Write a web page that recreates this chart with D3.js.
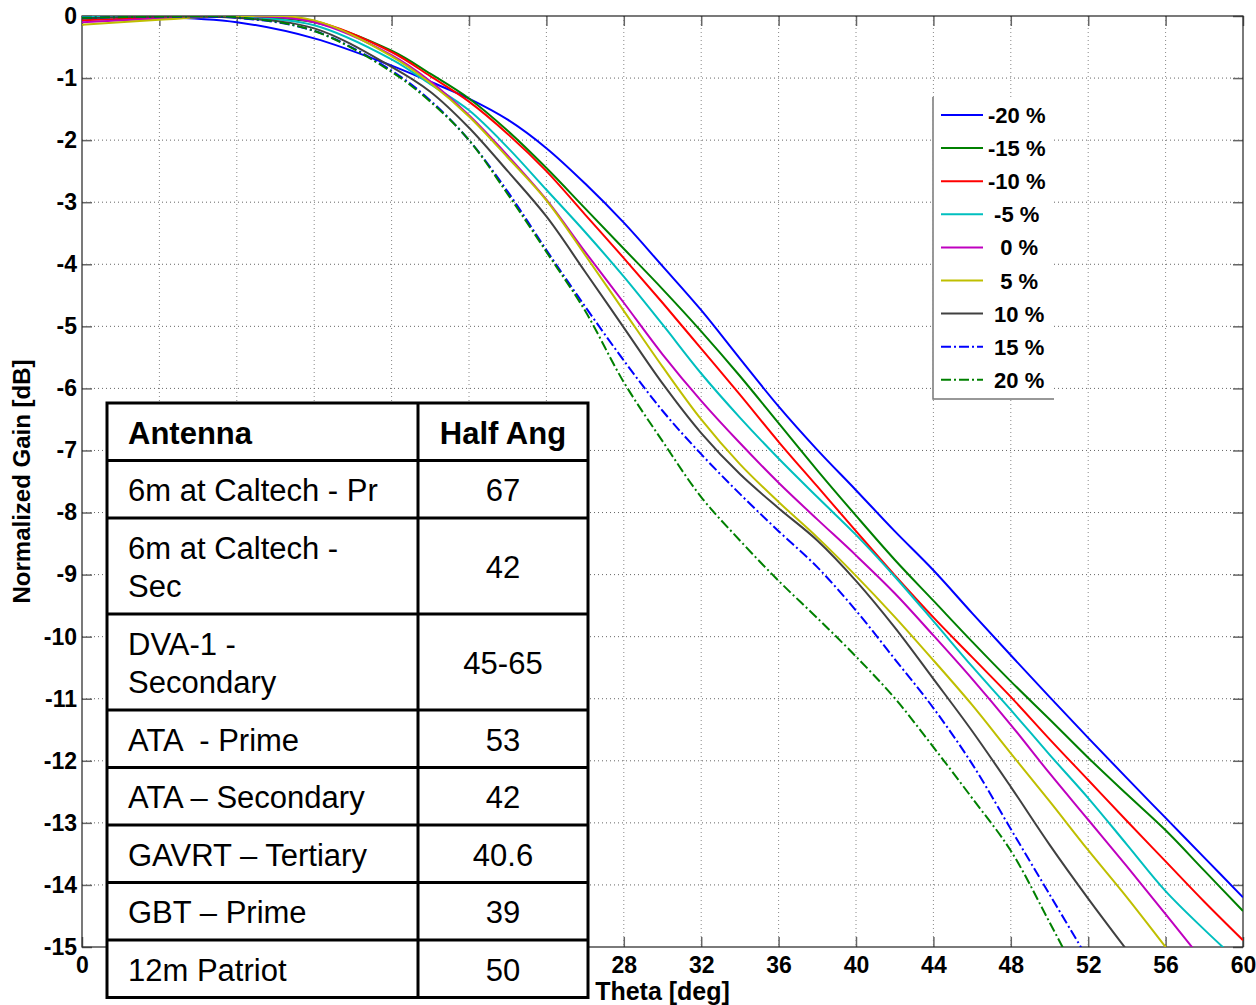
<!DOCTYPE html>
<html>
<head>
<meta charset="utf-8">
<script src="https://cdn.jsdelivr.net/npm/d3@7"></script>
<style>
  body { margin: 0; background: #fff; }
  text { font-family: "Liberation Sans", Arial, sans-serif; }
</style>
</head>
<body>
<div id="chart"></div>
<script>
// theta [deg] sample points
var theta = [0, 4, 8, 12, 16, 18, 20, 22, 24, 26, 28, 30, 32, 34, 36, 38, 40, 42, 44, 46, 48, 50, 52, 54, 56, 58, 60];

// normalized gain [dB] per frequency offset
var gainM20 = [-0.03, -0.02, -0.1, -0.36, -0.8, -1.06, -1.33, -1.67, -2.13, -2.7, -3.33, -4.03, -4.74, -5.52, -6.29, -6.99, -7.64, -8.3, -8.93, -9.62, -10.3, -10.97, -11.63, -12.28, -12.92, -13.56, -14.2];
var gainM15 = [-0.02, 0, -0.01, -0.1, -0.56, -0.93, -1.33, -1.85, -2.45, -3.1, -3.75, -4.4, -5.08, -5.8, -6.56, -7.32, -8.05, -8.76, -9.42, -10.08, -10.72, -11.33, -11.95, -12.54, -13.12, -13.77, -14.42];
var gainM10 = [-0.07, -0.03, 0, -0.08, -0.58, -0.97, -1.38, -1.9, -2.5, -3.2, -3.9, -4.62, -5.36, -6.1, -6.86, -7.58, -8.3, -9.01, -9.69, -10.33, -10.97, -11.65, -12.31, -12.97, -13.62, -14.27, -14.89];
var gainM5 = [0, 0, -0.02, -0.15, -0.7, -1.1, -1.52, -2.12, -2.8, -3.48, -4.2, -4.97, -5.76, -6.47, -7.13, -7.75, -8.36, -9.03, -9.75, -10.48, -11.18, -11.9, -12.6, -13.35, -14.1, -14.72, -15.3];
var gain0 = [-0.1, -0.04, 0, -0.1, -0.63, -1.05, -1.6, -2.25, -2.96, -3.8, -4.62, -5.45, -6.2, -6.88, -7.52, -8.11, -8.69, -9.3, -9.98, -10.68, -11.42, -12.2, -12.95, -13.7, -14.47, -15.25, null];
var gainP5 = [-0.14, -0.06, 0, -0.07, -0.65, -1.08, -1.62, -2.28, -2.97, -3.85, -4.75, -5.65, -6.5, -7.22, -7.83, -8.4, -9.02, -9.68, -10.38, -11.1, -11.88, -12.65, -13.44, -14.2, -15.0, -15.8, null];
var gainP10 = [-0.04, -0.01, -0.03, -0.2, -0.82, -1.22, -1.8, -2.5, -3.23, -4.12, -5.02, -5.92, -6.72, -7.38, -7.93, -8.45, -9.1, -9.85, -10.68, -11.52, -12.42, -13.35, -14.22, -15.05, null, null, null];
var gainP15 = [-0.03, -0.01, -0.03, -0.24, -0.88, -1.36, -2.0, -2.83, -3.77, -4.68, -5.55, -6.36, -7.06, -7.7, -8.3, -8.88, -9.58, -10.36, -11.15, -12.05, -13.1, -14.15, -15.2, null, null, null, null];
var gainP20 = [-0.03, -0.01, -0.02, -0.24, -0.9, -1.38, -2.0, -2.87, -3.8, -4.75, -5.9, -6.85, -7.75, -8.45, -9.1, -9.7, -10.32, -10.99, -11.78, -12.6, -13.45, -14.6, -15.8, null, null, null, null];

var seriesLabels = ["-20 %", "-15 %", "-10 %", " -5 %", "  0 %", "  5 %", " 10 %", " 15 %", " 20 %"];
var seriesValues = [gainM20, gainM15, gainM10, gainM5, gain0, gainP5, gainP10, gainP15, gainP20];
var seriesColors = ["#0000ff", "#008000", "#ff0000", "#00bfbf", "#bf00bf", "#bfbf00", "#404040", "#0000ff", "#008000"];
var seriesDash = [null, null, null, null, null, null, null, "10,3,2,3", "10,3,2,3"];

var xTicks = d3.range(0, 61, 4);
var yTicks = d3.range(-15, 1, 1);

// table of antennas
var antennaNames = ["6m at Caltech - Pr", "6m at Caltech -\nSec", "DVA-1 -\nSecondary", "ATA  - Prime", "ATA \u2013 Secondary", "GAVRT \u2013 Tertiary", "GBT \u2013 Prime", "12m Patriot"];
var halfAngles = ["67", "42", "45-65", "53", "42", "40.6", "39", "50"];
var tableHeader = ["Antenna", "Half Ang"];

var width = 1256, height = 1005;
var x0 = 82, x1 = 1243, y0 = 16, y1 = 947;
var tx = 107, tw = 481, colX = 418, tTop = 403;

var svg = d3.select("#chart").append("svg")
    .attr("width", width)
    .attr("height", height);

var x = d3.scaleLinear().domain([0, 60]).range([x0, x1]);
var y = d3.scaleLinear().domain([-15, 0]).range([y1, y0]);

// grid
svg.append("g").selectAll("line")
    .data(xTicks.filter(function (d) { return d > 0 && d < 60; }))
  .enter().append("line")
    .attr("x1", function (d) { return x(d); })
    .attr("x2", function (d) { return x(d); })
    .attr("y1", y0)
    .attr("y2", y1)
    .attr("stroke", "#888")
    .attr("stroke-dasharray", "1,3");
svg.append("g").selectAll("line")
    .data(yTicks.filter(function (d) { return d > -15 && d < 0; }))
  .enter().append("line")
    .attr("x1", x0)
    .attr("x2", x1)
    .attr("y1", function (d) { return y(d); })
    .attr("y2", function (d) { return y(d); })
    .attr("stroke", "#666")
    .attr("stroke-dasharray", "1,3");

// axes, ticks pointing inward; x labels under the table are hidden there anyway
var fmt = function (d) { return String(d); };
var fmtX = function (d) { return (x(d) > tx && x(d) < tx + tw) ? "" : String(d); };
var gx = svg.append("g").attr("transform", "translate(0," + y1 + ")")
    .call(d3.axisBottom(x).tickValues(xTicks).tickSize(-10).tickPadding(10).tickFormat(fmtX));
var gy = svg.append("g").attr("transform", "translate(" + x0 + ",0)")
    .call(d3.axisLeft(y).tickValues(yTicks).tickSize(-10).tickPadding(5).tickFormat(fmt));
var gt = svg.append("g").attr("transform", "translate(0," + y0 + ")")
    .call(d3.axisTop(x).tickValues(xTicks).tickSize(-10).tickFormat(""));
var gr = svg.append("g").attr("transform", "translate(" + x1 + ",0)")
    .call(d3.axisRight(y).tickValues(yTicks).tickSize(-10).tickFormat(""));
[gx, gy, gt, gr].forEach(function (g) {
  g.select(".domain").remove();
  g.selectAll(".tick line").attr("stroke", "#666").attr("stroke-width", 1.5);
  g.selectAll("text")
    .attr("fill", "#000")
    .attr("font-size", "23px")
    .attr("font-weight", "bold")
    .attr("font-family", "Liberation Sans, Arial, sans-serif");
});

// box
svg.append("rect")
    .attr("x", x0).attr("y", y0)
    .attr("width", x1 - x0).attr("height", y1 - y0)
    .attr("fill", "none")
    .attr("stroke", "#222")
    .attr("stroke-width", 1.2);

// curves
svg.append("clipPath").attr("id", "plotClip")
  .append("rect")
    .attr("x", x0).attr("y", y0)
    .attr("width", x1 - x0).attr("height", y1 - y0);

var line = d3.line()
    .defined(function (d) { return d[1] !== null; })
    .x(function (d) { return x(d[0]); })
    .y(function (d) { return y(d[1]); })
    .curve(d3.curveCatmullRom.alpha(0.5));

var curves = svg.append("g").attr("clip-path", "url(#plotClip)");
seriesValues.forEach(function (vals, i) {
  curves.append("path")
    .attr("d", line(theta.map(function (t, j) { return [t, vals[j]]; })))
    .attr("fill", "none")
    .attr("stroke", seriesColors[i])
    .attr("stroke-width", 2)
    .attr("stroke-dasharray", seriesDash[i]);
});

// axis labels
svg.append("text")
    .attr("transform", "translate(30," + ((y0 + y1) / 2) + ") rotate(-90)")
    .attr("text-anchor", "middle")
    .attr("font-size", "24px")
    .attr("font-weight", "bold")
    .text("Normalized Gain [dB]");
svg.append("text")
    .attr("x", (x0 + x1) / 2)
    .attr("y", 1000)
    .attr("text-anchor", "middle")
    .attr("font-size", "25px")
    .attr("font-weight", "bold")
    .text("Theta [deg]");

// legend
var lg = svg.append("g");
lg.append("rect")
    .attr("x", 933).attr("y", 97)
    .attr("width", 121).attr("height", 302)
    .attr("fill", "#fff");
lg.append("path")
    .attr("d", "M933,97V399H1054")
    .attr("fill", "none")
    .attr("stroke", "#777")
    .attr("stroke-width", 1.5);
seriesLabels.forEach(function (lab, i) {
  var ly = 115 + i * 33.1;
  lg.append("line")
    .attr("x1", 941).attr("x2", 983)
    .attr("y1", ly).attr("y2", ly)
    .attr("stroke", seriesColors[i])
    .attr("stroke-width", 2)
    .attr("stroke-dasharray", seriesDash[i]);
  lg.append("text")
    .attr("x", 988).attr("y", ly + 8)
    .attr("font-size", "22px")
    .attr("font-weight", "bold")
    .style("white-space", "pre")
    .text(lab);
});

// table
var rows = [{name: tableHeader[0], val: tableHeader[1], head: true}].concat(
  antennaNames.map(function (n, i) { return {name: n, val: halfAngles[i], head: false}; }));
var tg = svg.append("g");
var rowTop = tTop;
rows.forEach(function (r) {
  r.lines = r.name.split("\n");
  r.top = rowTop;
  r.h = 19 + 38.5 * r.lines.length;
  rowTop += r.h;
});
tg.append("rect")
    .attr("x", tx).attr("y", tTop)
    .attr("width", tw).attr("height", rowTop - tTop)
    .attr("fill", "#fff")
    .attr("stroke", "#000")
    .attr("stroke-width", 3);
tg.append("line")
    .attr("x1", colX).attr("x2", colX)
    .attr("y1", tTop).attr("y2", rowTop)
    .attr("stroke", "#000").attr("stroke-width", 3);
rows.forEach(function (r, i) {
  if (i > 0) {
    tg.append("line")
      .attr("x1", tx).attr("x2", tx + tw)
      .attr("y1", r.top).attr("y2", r.top)
      .attr("stroke", "#000").attr("stroke-width", 3);
  }
  r.lines.forEach(function (s, k) {
    tg.append("text")
      .attr("x", 128)
      .attr("y", r.top + (r.h - r.lines.length * 38) / 2 + 31 + k * 38)
      .attr("font-size", "31px")
      .attr("font-weight", r.head ? "bold" : "normal")
      .style("white-space", "pre")
      .text(s);
  });
  tg.append("text")
    .attr("x", (colX + tx + tw) / 2)
    .attr("y", r.top + r.h / 2 + 12)
    .attr("text-anchor", "middle")
    .attr("font-size", "31px")
    .attr("font-weight", r.head ? "bold" : "normal")
    .text(r.val);
});
</script>
</body>
</html>
